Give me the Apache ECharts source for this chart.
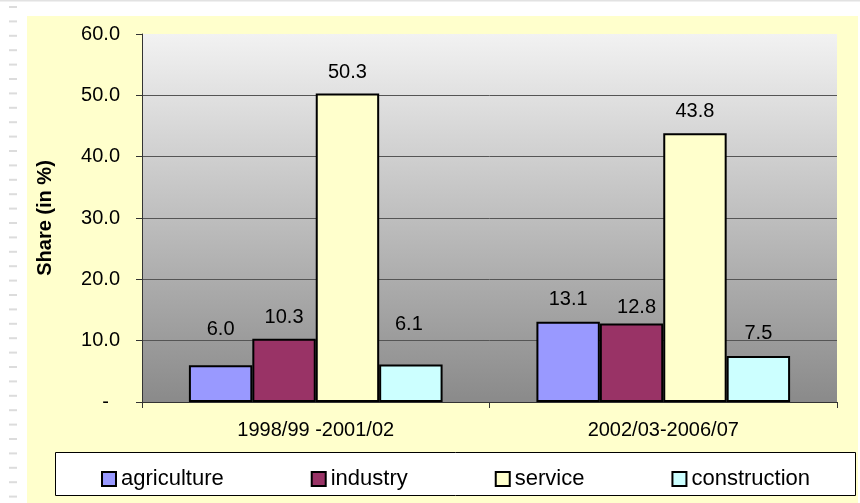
<!DOCTYPE html>
<html>
<head>
<meta charset="utf-8">
<script src="https://cdn.jsdelivr.net/npm/echarts@6/dist/echarts.min.js"></script>
<style>
html,body{margin:0;padding:0;background:#fff;}
#chart{width:860px;height:503px;}
</style>
</head>
<body>
<div id="chart"></div>
<script>
// ---- data ----
const categories = ['1998/99 -2001/02', '2002/03-2006/07'];
const seriesNames = ['agriculture', 'industry', 'service', 'construction'];
const agriculture = [6.0, 13.1];
const industry = [10.3, 12.8];
const service = [50.3, 43.8];
const construction = [6.1, 7.5];
const yTicks = [0, 10, 20, 30, 40, 50, 60];

// ---- styling ----
const FONT = '"Liberation Sans", Arial, sans-serif';
const colors = ['#9999FF', '#993366', '#FFFFCC', '#CCFFFF'];
const labelOffsets = [
  [[0, -15], [0, -1]],
  [[0, 0], [5, 5]],
  [[0, 0], [0, -1]],
  [[-2, -19], [0, -2]]
];
const values = [agriculture, industry, service, construction];

const chart = echarts.init(document.getElementById('chart'), null, {renderer: 'canvas'});

const series = seriesNames.map((name, i) => ({
  name: name,
  type: 'bar',
  barGap: '0%',
  barCategoryGap: '27%',
  itemStyle: {color: colors[i], borderColor: '#000', borderWidth: 2},
  label: {
    show: true, position: 'top', distance: 11,
    fontFamily: FONT, fontSize: 20, color: '#000',
    formatter: p => p.value.toFixed(1)
  },
  data: values[i].map((v, j) => ({value: v, label: {offset: labelOffsets[i][j]}}))
}));

const graphics = [
  {type: 'rect', z: -10, shape: {x: 0, y: 0, width: 860, height: 1.5}, style: {fill: '#e2e2e2'}},
  {type: 'rect', z: -10, shape: {x: 27, y: 16, width: 831, height: 487}, style: {fill: '#FFFFCC'}},
  {type: 'rect', z: -5, shape: {x: 55.5, y: 452.5, width: 800, height: 43}, style: {fill: '#fff', stroke: '#000', lineWidth: 1}}
];
for (let k = 0; k < 35; k++) {
  graphics.push({type: 'rect', z: -10, shape: {x: 9, y: 6 + 14.4 * k, width: 8, height: 2}, style: {fill: '#dcdcdc'}});
}

chart.setOption({
  animation: false,
  backgroundColor: '#fff',
  textStyle: {fontFamily: FONT},
  graphic: {elements: graphics},
  grid: {
    left: 142, top: 34, right: 23, bottom: 101, containLabel: false,
    show: true, borderWidth: 0,
    backgroundColor: {
      type: 'linear', x: 0, y: 0, x2: 0, y2: 1,
      colorStops: [{offset: 0, color: '#f2f2f2'}, {offset: 1, color: '#8a8a8a'}]
    }
  },
  legend: {
    data: seriesNames,
    left: 96, top: 462,
    itemGap: 87, itemWidth: 14, itemHeight: 14,
    icon: 'rect',
    itemStyle: {borderColor: '#000', borderWidth: 2},
    textStyle: {fontFamily: FONT, fontSize: 22, color: '#000', lineHeight: 24},
    z: 10
  },
  xAxis: {
    type: 'category',
    data: categories,
    axisLine: {lineStyle: {color: '#333', width: 1}},
    axisTick: {show: true, length: 6, lineStyle: {color: '#333'}},
    axisLabel: {fontFamily: FONT, fontSize: 20, color: '#000', margin: 18}
  },
  yAxis: {
    type: 'value',
    min: yTicks[0], max: yTicks[yTicks.length - 1], interval: 10,
    name: 'Share (in %)',
    nameLocation: 'middle',
    nameGap: 87,
    nameRotate: 90,
    nameTextStyle: {fontFamily: FONT, fontSize: 20, fontWeight: 'bold', color: '#000'},
    axisLine: {show: true, lineStyle: {color: '#333', width: 1}},
    axisTick: {show: true, length: 6, lineStyle: {color: '#333'}},
    axisLabel: {
      fontFamily: FONT, fontSize: 20, color: '#000', margin: 22,
      formatter: v => v === 0 ? '-  ' : v.toFixed(1)
    },
    splitLine: {show: true, lineStyle: {color: ['#333', '#555', '#555', '#555', '#555', '#555', 'rgba(0,0,0,0)'], width: 1}}
  },
  series: series
});
</script>
</body>
</html>
